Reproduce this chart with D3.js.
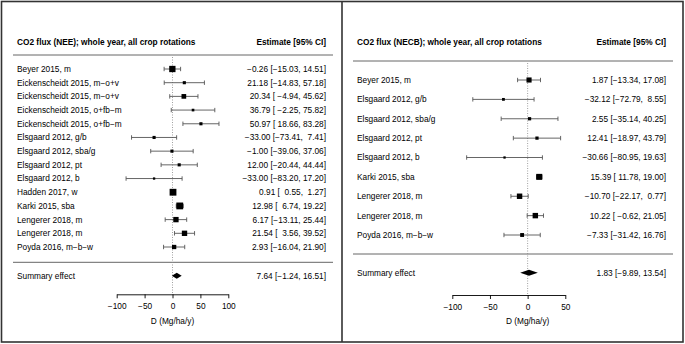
<!DOCTYPE html>
<html lang="en">
  <head>
    <meta charset="utf-8">
    <title>Forest plots CO2 flux</title>
    <script src="https://d3js.org/d3.v7.js"></script>
    <style>
      body { margin: 0; background: #fff; }
      text { font-family: "Liberation Sans", Arial, sans-serif; white-space: pre; }
    </style>
  </head>

  <body>
    <script>
      // Left panel: NEE
      const neeStudies = ["Beyer 2015, m", "Eickenscheidt 2015, m\u2212o+v", "Eickenscheidt 2015, m\u2212o+v",
        "Eickenscheidt 2015, o+fb\u2212m", "Eickenscheidt 2015, o+fb\u2212m", "Elsgaard 2012, g/b",
        "Elsgaard 2012, sba/g", "Elsgaard 2012, pt", "Elsgaard 2012, b", "Hadden 2017, w",
        "Karki 2015, sba", "Lengerer 2018, m", "Lengerer 2018, m", "Poyda 2016, m\u2212b\u2212w"];
      const neeEst = [-0.26, 21.18, 20.34, 36.79, 50.97, -33.00, -1.00, 12.00, -33.00, 0.91, 12.98, 6.17, 21.54, 2.93];
      const neeLow = [-15.03, -14.83, -4.94, -2.25, 18.66, -73.41, -39.06, -20.44, -83.20, 0.55, 6.74, -13.11, 3.56, -16.04];
      const neeHigh = [14.51, 57.18, 45.62, 75.82, 83.28, 7.41, 37.06, 44.44, 17.20, 1.27, 19.22, 25.44, 39.52, 21.90];
      const neeWeight = [9, 2.2, 5, 1.6, 2.2, 2.2, 2.2, 2.2, 1.2, 10.5, 10.5, 6.5, 6.5, 4.2];
      const neeSummary = [7.64, -1.24, 16.51];
      const neeTicks = [-100, -50, 0, 50, 100];

      // Right panel: NECB
      const necbStudies = ["Beyer 2015, m", "Elsgaard 2012, g/b", "Elsgaard 2012, sba/g", "Elsgaard 2012, pt",
        "Elsgaard 2012, b", "Karki 2015, sba", "Lengerer 2018, m", "Lengerer 2018, m", "Poyda 2016, m\u2212b\u2212w"];
      const necbEst = [1.87, -32.12, 2.55, 12.41, -30.66, 15.39, -10.70, 10.22, -7.33];
      const necbLow = [-13.34, -72.79, -35.14, -18.97, -80.95, 11.78, -22.17, -0.62, -31.42];
      const necbHigh = [17.08, 8.55, 40.25, 43.79, 19.63, 19.00, 0.77, 21.05, 16.76];
      const necbWeight = [8, 2.4, 3.2, 3.2, 1.6, 11, 9, 9, 4.6];
      const necbSummary = [1.83, -9.89, 13.54];
      const necbTicks = [-100, -50, 0, 50];

      const w = 685;
      const h = 344;
      const fontSize = 8.3;

      const svg = d3.select("body")
        .append("svg")
        .attr("width", w)
        .attr("height", h);

      svg.append("rect")
        .attr("x", 1.5).attr("y", 1.5)
        .attr("width", 681.5).attr("height", 340.5)
        .attr("fill", "none").attr("stroke", "#333").attr("stroke-width", 1.6);

      svg.append("line")
        .attr("x1", 342).attr("x2", 342).attr("y1", 1).attr("y2", 342)
        .attr("stroke", "#333").attr("stroke-width", 1.6);

      const fmt = v => v.toFixed(2).replace("-", "\u2212");

      function estText(est, low, high) {
        const e = est.map(fmt), l = low.map(fmt), u = high.map(fmt);
        const le = d3.max(e, s => s.length), ll = d3.max(l, s => s.length), lu = d3.max(u, s => s.length);
        return est.map((d, i) => e[i].padStart(le) + " [" + l[i].padStart(ll) + ", " + u[i].padStart(lu) + "]");
      }

      function drawPanel(p) {
        const g = svg.append("g").attr("transform", `translate(${p.ox}, 0)`);

        const x = d3.scaleLinear().domain([p.ticks[0], p.ticks[p.ticks.length - 1]]).range(p.xRange);
        const y = d3.scaleLinear().domain([0, p.studies.length - 1]).range(p.yRange);
        const size = d3.scaleSqrt().domain([0, d3.max(p.weight)]).range([0, p.maxSize]);

        // headers
        g.append("text")
          .attr("x", 17).attr("y", 42).attr("dy", "0.35em")
          .attr("font-size", fontSize).attr("font-weight", "bold")
          .text(p.title);
        g.append("text")
          .attr("x", 326).attr("y", 42).attr("dy", "0.35em")
          .attr("text-anchor", "end")
          .attr("font-size", fontSize).attr("font-weight", "bold")
          .text("Estimate [95% CI]");

        g.append("line")
          .attr("x1", 13).attr("x2", 333).attr("y1", p.topLine).attr("y2", p.topLine)
          .attr("stroke", "#666").attr("stroke-width", 1);
        g.append("line")
          .attr("x1", 13).attr("x2", 333).attr("y1", p.sepLine).attr("y2", p.sepLine)
          .attr("stroke", "#666").attr("stroke-width", 1);

        // reference line at 0
        g.append("line")
          .attr("x1", x(0)).attr("x2", x(0))
          .attr("y1", p.topLine + 2).attr("y2", p.axisY)
          .attr("stroke", "#888").attr("stroke-width", 0.8)
          .attr("stroke-dasharray", "1,1.5");

        const rows = g.selectAll(".row")
          .data(p.studies.map((s, i) => ({ s, est: p.est[i], low: p.low[i], high: p.high[i], wt: p.weight[i], txt: p.estTxt[i], i })))
          .enter().append("g").attr("class", "row");

        rows.append("text")
          .attr("x", 17).attr("y", d => y(d.i)).attr("dy", "0.35em")
          .attr("font-size", fontSize)
          .text(d => d.s);
        rows.append("text")
          .attr("x", 326).attr("y", d => y(d.i)).attr("dy", "0.35em")
          .attr("text-anchor", "end")
          .attr("font-size", fontSize)
          .text(d => d.txt);

        rows.append("line")
          .attr("x1", d => x(d.low)).attr("x2", d => x(d.high))
          .attr("y1", d => y(d.i)).attr("y2", d => y(d.i))
          .attr("stroke", "#555").attr("stroke-width", 0.9);
        rows.append("line")
          .attr("x1", d => x(d.low)).attr("x2", d => x(d.low))
          .attr("y1", d => y(d.i) - 2.2).attr("y2", d => y(d.i) + 2.2)
          .attr("stroke", "#555").attr("stroke-width", 0.9);
        rows.append("line")
          .attr("x1", d => x(d.high)).attr("x2", d => x(d.high))
          .attr("y1", d => y(d.i) - 2.2).attr("y2", d => y(d.i) + 2.2)
          .attr("stroke", "#555").attr("stroke-width", 0.9);
        rows.append("rect")
          .attr("x", d => x(d.est) - size(d.wt) / 2)
          .attr("y", d => y(d.i) - size(d.wt) / 2)
          .attr("width", d => size(d.wt))
          .attr("height", d => size(d.wt))
          .attr("fill", "#000");

        // summary
        g.append("text")
          .attr("x", 17).attr("y", p.sumY).attr("dy", "0.35em")
          .attr("font-size", fontSize)
          .text("Summary effect");
        g.append("text")
          .attr("x", 326).attr("y", p.sumY).attr("dy", "0.35em")
          .attr("text-anchor", "end")
          .attr("font-size", fontSize)
          .text(estText([p.summary[0]], [p.summary[1]], [p.summary[2]])[0]);
        const [se, sl, sh] = p.summary;
        g.append("polygon")
          .attr("points", [[x(sl), p.sumY], [x(se), p.sumY - 3], [x(sh), p.sumY], [x(se), p.sumY + 3]].join(" "))
          .attr("fill", "#000");

        // axis
        const axis = d3.axisBottom(x).tickValues(p.ticks).tickSizeInner(4).tickSizeOuter(0).tickPadding(5);
        const ag = g.append("g")
          .attr("transform", `translate(0, ${p.axisY})`)
          .call(axis);
        ag.selectAll("text").attr("font-size", fontSize).attr("font-family", "Liberation Sans, Arial, sans-serif").attr("fill", "#000");
        ag.selectAll("line, path").attr("stroke", "#000").attr("stroke-width", 0.9);

        g.append("text")
          .attr("x", x(0)).attr("y", 321).attr("dy", "0.35em")
          .attr("text-anchor", "middle")
          .attr("font-size", fontSize)
          .text("D (Mg/ha/y)");
      }

      drawPanel({
        ox: 0, title: "CO2 flux (NEE); whole year, all crop rotations",
        studies: neeStudies, est: neeEst, low: neeLow, high: neeHigh, weight: neeWeight,
        estTxt: estText(neeEst, neeLow, neeHigh), summary: neeSummary, ticks: neeTicks,
        xRange: [116.7, 228.3], yRange: [69, 247], topLine: 55, sepLine: 262.3, sumY: 275.7, axisY: 294.3,
        maxSize: 6.8
      });

      drawPanel({
        ox: 340, title: "CO2 flux (NECB); whole year, all crop rotations",
        studies: necbStudies, est: necbEst, low: necbLow, high: necbHigh, weight: necbWeight,
        estTxt: estText(necbEst, necbLow, necbHigh), summary: necbSummary, ticks: necbTicks,
        xRange: [112.3, 225.3], yRange: [80, 235], topLine: 61, sepLine: 254, sumY: 272.7, axisY: 295,
        maxSize: 6
      });
    </script>
  </body>
</html>
